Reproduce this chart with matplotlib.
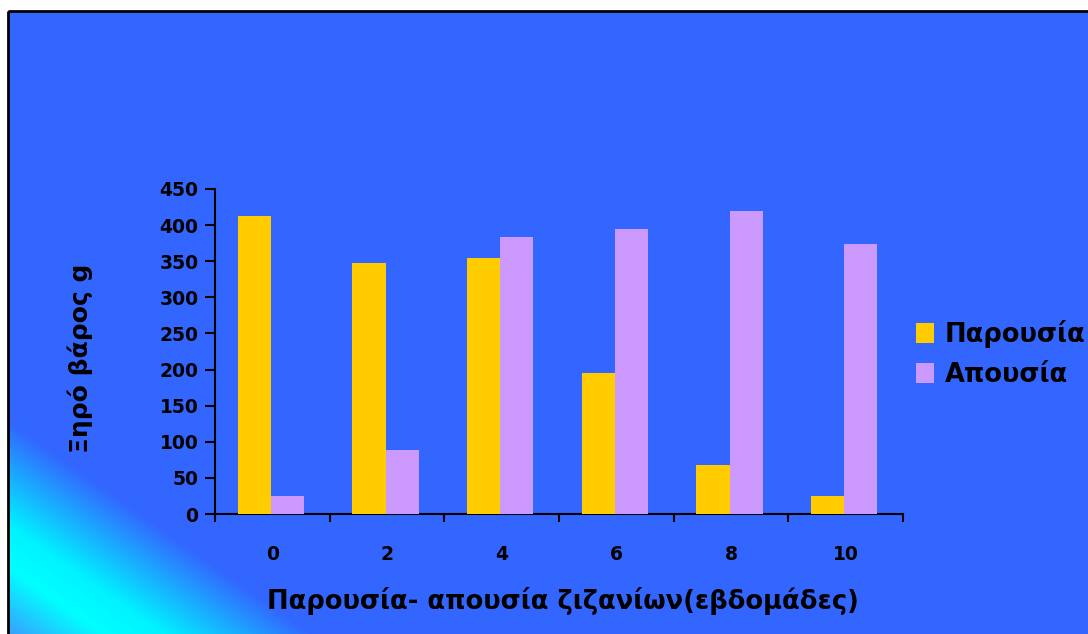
import numpy as np
import matplotlib
matplotlib.use("Agg")
import matplotlib.pyplot as plt
from matplotlib.patches import Rectangle, Patch

# ---- data ----
categories = ["0", "2", "4", "6", "8", "10"]
presence = [412, 347, 354, 195, 68, 25]      # Παρουσία
absence = [25, 88, 383, 394, 419, 374]       # Απουσία
series_labels = ["Παρουσία", "Απουσία"]
y_ticks = [0, 50, 100, 150, 200, 250, 300, 350, 400, 450]
x_title = "Παρουσία- απουσία ζιζανίων(εβδομάδες)"
y_title = "Ξηρό βάρος g"

W, H = 1088, 634
YELLOW = "#FFCC00"
LILAC = "#CC99FF"

plt.rcParams['font.family'] = ['DejaVu Sans']
plt.rcParams['font.weight'] = 'bold'

fig = plt.figure(figsize=(W / 100, H / 100), dpi=100, facecolor="white")

# ---- background with corner gradient ----
bg = fig.add_axes([0, 0, 1, 1], zorder=-5)
bg.set_xlim(0, W)
bg.set_ylim(H, 0)
bg.axis("off")
xs = np.arange(8, W + 1)
ys = np.arange(11, H + 1)
X, Y = np.meshgrid(xs, ys)
d = ((X - 8) * 89 + (H - Y) * 127) / 155.0
stops_d = [0.0, 55.0, 90.0, 175.0]
stops_c = np.array([[0.22, 0.62, 1.0],
                    [0.0, 1.0, 1.0],
                    [0.0, 0.95, 1.0],
                    [0.2, 0.4, 1.0]])
img = np.stack([np.interp(d, stops_d, stops_c[:, k]) for k in range(3)], axis=-1)
bg.imshow(img, extent=(8, W + 1, H + 1, 11), aspect="auto", interpolation="bilinear")
bg.add_patch(Rectangle((7.5, 10.5), W + 10, H + 10, fill=False, edgecolor="black", lw=2.0))

# ---- main axes ----
ax = fig.add_axes([215 / W, 1 - 514 / H, (903 - 215) / W, (514 - 189) / H])
ax.set_facecolor("none")
x = np.arange(len(categories))
bw = 0.288
off = -0.013
ax.bar(x - bw / 2 + off, presence, width=bw, color=YELLOW, label=series_labels[0], zorder=3)
ax.bar(x + bw / 2 + off, absence, width=bw, color=LILAC, label=series_labels[1], zorder=3)

ax.set_xlim(-0.5, len(categories) - 0.5)
ax.set_ylim(0, 450)
ax.set_yticks(y_ticks)
ax.set_yticklabels([str(v) for v in y_ticks], fontsize=13.5, fontweight="bold")
ax.set_xticks(x)
ax.set_xticklabels(categories, fontsize=13.5, fontweight="bold")
ax.set_xticks(np.arange(-0.5, len(categories)), minor=True)
ax.tick_params(axis="x", which="major", length=0, pad=22)
ax.tick_params(axis="x", which="minor", length=6, width=1.5, direction="out")
ax.tick_params(axis="y", which="major", length=7, width=1.5, direction="out", pad=5)
for s in ["top", "right"]:
    ax.spines[s].set_visible(False)
for s in ["left", "bottom"]:
    ax.spines[s].set_linewidth(1.5)

fig.text(563 / W, 1 - 609 / H, x_title, fontsize=18.5, fontweight="bold",
         ha="center", va="baseline")
fig.text(80 / W, 1 - 358 / H, y_title, fontsize=18, fontweight="bold",
         rotation=90, ha="center", va="center")

handles = [Patch(facecolor=YELLOW), Patch(facecolor=LILAC)]
fig.legend(handles, series_labels, loc="center left",
           bbox_to_anchor=(898 / W, 1 - 354 / H), frameon=False,
           prop={"size": 18.5, "weight": "bold"},
           handlelength=0.72, handleheight=0.8, handletextpad=0.4,
           labelspacing=0.55, borderpad=0.2)

fig.savefig("out.png", dpi=100, facecolor="white")
